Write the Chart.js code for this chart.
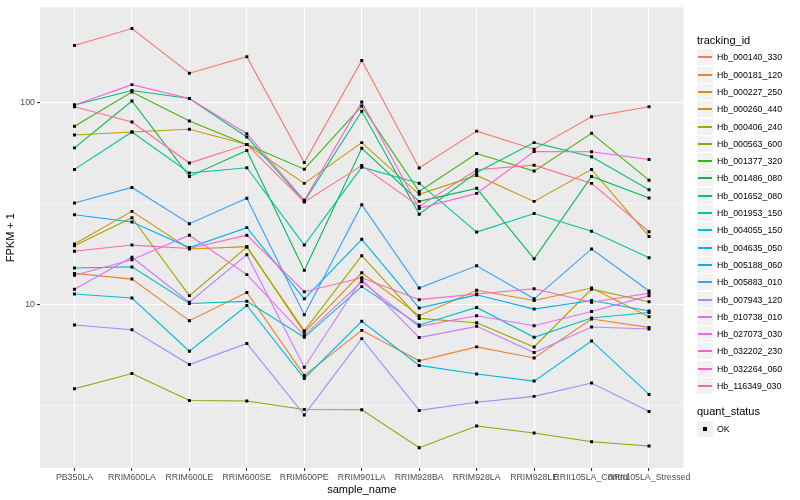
<!DOCTYPE html>
<html>
<head>
<meta charset="utf-8">
<script src="https://cdn.jsdelivr.net/npm/chart.js@4.4.0/dist/chart.umd.min.js"></script>
<style>
body { margin: 0; background: #fff; font-family: "Liberation Sans", Arial, sans-serif; }
#wrap { position: relative; width: 800px; height: 500px; }
#legend { position: absolute; left: 0; top: 0; width: 800px; height: 500px; pointer-events: none; }
.ltitle { position: absolute; left: 697px; font-size: 11px; line-height: 13px; color: #000; }
.lkey { position: absolute; left: 697px; width: 16px; height: 16px; background: #F2F2F2; }
.lline { position: absolute; left: 1px; right: 1px; top: 7px; height: 1.5px; }
.ldot { position: absolute; left: 6px; top: 6px; width: 4px; height: 4px; background: #000; }
.ltext { position: absolute; left: 717px; font-size: 8.8px; line-height: 16px; color: #000; white-space: nowrap; }
</style>
</head>
<body>
<div id="wrap">
  <canvas id="fpkmChart" width="800" height="500"></canvas>
  <div id="legend"></div>
</div>
<script>
const sampleNames = ['PB350LA', 'RRIM600LA', 'RRIM600LE', 'RRIM600SE', 'RRIM600PE', 'RRIM901LA',
  'RRIM928BA', 'RRIM928LA', 'RRIM928LE', 'RRII105LA_Control', 'RRII105LA_Stressed'];

const trackingIds = ['Hb_000140_330', 'Hb_000181_120', 'Hb_000227_250', 'Hb_000260_440', 'Hb_000406_240',
  'Hb_000563_600', 'Hb_001377_320', 'Hb_001486_080', 'Hb_001652_080', 'Hb_001953_150',
  'Hb_004055_150', 'Hb_004635_050', 'Hb_005188_060', 'Hb_005883_010', 'Hb_007943_120',
  'Hb_010738_010', 'Hb_027073_030', 'Hb_032202_230', 'Hb_032264_060', 'Hb_116349_030'];

const lineColors = ['#F8766D', '#EA8331', '#D89000', '#C09B00', '#A3A500', '#7CAE00', '#39B600', '#00BB4E',
  '#00BF7D', '#00C1A3', '#00BFC4', '#00BAE0', '#00B0F6', '#35A2FF', '#9590FF', '#C77CFF',
  '#E76BF3', '#FA62DB', '#FF62BC', '#FF6C91'];

// FPKM + 1, one value per sample
const hb_000140_330 = [192, 233, 140, 169, 50.6, 162, 47.6, 72.4, 58.9, 85.3, 95.6];
const hb_000181_120 = [14.3, 13.4, 8.34, 11.5, 4.47, 7.47, 5.28, 6.19, 5.45, 8.5, 7.73];
const hb_000227_250 = [20.0, 29.0, 18.9, 19.4, 7.31, 14.4, 8.83, 11.8, 10.5, 12.1, 8.73];
const hb_000260_440 = [69.3, 71.7, 73.9, 62.1, 39.9, 63.5, 35.2, 43.7, 32.5, 46.8, 21.8];
const hb_000406_240 = [19.6, 27.0, 11.1, 19.3, 7.44, 17.5, 8.56, 8.15, 6.18, 11.95, 10.35];
const hb_000563_600 = [3.84, 4.57, 3.36, 3.34, 3.03, 3.02, 1.96, 2.51, 2.32, 2.10, 2.0];
const hb_001377_320 = [76.5, 113, 81.2, 62.1, 46.9, 96.3, 36.4, 56.1, 45.9, 70.6, 41.4];
const hb_001486_080 = [59.8, 102, 43.2, 58.0, 14.8, 59.5, 32.5, 37.7, 16.9, 43.2, 33.8];
const hb_001652_080 = [97.4, 115, 105, 67.7, 32.5, 90.8, 28.1, 45.2, 63.5, 54.0, 37.1];
const hb_001953_150 = [46.8, 71.7, 44.9, 47.7, 19.75, 48.0, 40.0, 22.9, 28.3, 23.1, 17.1];
const hb_004055_150 = [15.2, 15.4, 10.15, 10.4, 6.9, 12.3, 7.94, 9.7, 6.9, 8.6, 9.16];
const hb_004635_050 = [11.3, 10.8, 5.89, 9.92, 4.32, 8.28, 5.01, 4.54, 4.19, 6.62, 3.6];
const hb_005188_060 = [27.9, 25.7, 19.2, 24.1, 10.7, 21.1, 9.63, 11.2, 9.52, 10.5, 9.31];
const hb_005883_010 = [31.9, 38.1, 25.2, 33.7, 8.93, 31.3, 12.1, 15.6, 10.7, 18.9, 11.7];
const hb_007943_120 = [7.94, 7.53, 5.06, 6.43, 2.85, 6.8, 3.0, 3.29, 3.52, 4.1, 2.96];
const hb_010738_010 = [11.95, 17.2, 10.3, 17.7, 4.91, 13.4, 6.88, 7.82, 5.8, 7.76, 7.59];
const hb_027073_030 = [14.0, 16.7, 22.1, 14.1, 7.04, 13.0, 7.82, 8.83, 7.88, 9.27, 11.07];
const hb_032202_230 = [97.4, 123, 105, 70.3, 32.9, 101, 30.0, 35.6, 57.4, 57.2, 52.4];
const hb_032264_060 = [18.4, 19.75, 19.0, 22.1, 11.6, 13.6, 10.6, 11.3, 12.0, 10.3, 11.4];
const hb_116349_030 = [95.6, 80.3, 50.3, 62.1, 32.3, 48.9, 30.7, 46.6, 49.1, 39.9, 23.0];

const seriesValues = [hb_000140_330, hb_000181_120, hb_000227_250, hb_000260_440, hb_000406_240,
  hb_000563_600, hb_001377_320, hb_001486_080, hb_001652_080, hb_001953_150,
  hb_004055_150, hb_004635_050, hb_005188_060, hb_005883_010, hb_007943_120,
  hb_010738_010, hb_027073_030, hb_032202_230, hb_032264_060, hb_116349_030];

const yGridValues = [3.1623, 10, 31.623, 100];
const yTickLabels = ['', '10', '', '100'];

// grey panel like ggplot
const panelBg = {
  id: 'panelBg',
  beforeDraw(chart) {
    const a = chart.chartArea;
    const c = chart.ctx;
    c.save();
    c.fillStyle = '#EBEBEB';
    c.fillRect(a.left, a.top, a.right - a.left, a.bottom - a.top);
    c.restore();
  }
};

const datasets = seriesValues.map((vals, i) => ({
  label: trackingIds[i],
  data: vals.map((v, j) => ({ x: j, y: v })),
  borderColor: lineColors[i],
  borderWidth: 1.1,
  pointRadius: 0,
  fill: false,
  tension: 0,
  order: -i
}));

datasets.push({
  label: 'OK',
  type: 'scatter',
  data: seriesValues.flatMap(vals => vals.map((v, j) => ({ x: j, y: v }))),
  pointStyle: 'rect',
  pointRadius: 2.1,
  backgroundColor: '#000',
  borderWidth: 0,
  showLine: false,
  order: -100
});

new Chart(document.getElementById('fpkmChart'), {
  type: 'line',
  data: { datasets: datasets },
  plugins: [panelBg],
  options: {
    responsive: false,
    animation: false,
    layout: { padding: { left: 0, top: 5, right: 116.5, bottom: 0 } },
    plugins: { legend: { display: false }, tooltip: { enabled: false } },
    scales: {
      x: {
        type: 'linear',
        min: -0.6,
        max: 10.6,
        afterBuildTicks: s => { s.ticks = sampleNames.map((_, i) => ({ value: i })); },
        afterFit: s => { s.height = 32; },
        ticks: {
          callback: v => sampleNames[v],
          autoSkip: false,
          maxRotation: 0,
          minRotation: 0,
          color: '#4D4D4D',
          font: { family: 'Liberation Sans', size: 8.8 },
          padding: 1
        },
        grid: { color: '#FFFFFF', lineWidth: 1.1, tickLength: 3, tickColor: '#333333' },
        border: { display: false },
        title: {
          display: true,
          text: 'sample_name',
          color: '#000',
          font: { family: 'Liberation Sans', size: 11 },
          padding: { top: 0, bottom: 3 }
        }
      },
      y: {
        type: 'logarithmic',
        min: 1.556,
        max: 297,
        afterBuildTicks: s => { s.ticks = yGridValues.map(v => ({ value: v })); },
        afterFit: s => { s.width = 40; },
        ticks: {
          callback: (v, i) => yTickLabels[i],
          color: '#4D4D4D',
          font: { family: 'Liberation Sans', size: 8.8 },
          padding: 2,
          autoSkip: false
        },
        grid: {
          color: '#FFFFFF',
          lineWidth: c => (yTickLabels[c.index] ? 1.1 : 0.55),
          tickLength: 3,
          tickColor: c => (yTickLabels[c.index] ? '#333333' : 'rgba(0,0,0,0)')
        },
        border: { display: false },
        title: {
          display: true,
          text: 'FPKM + 1',
          color: '#000',
          font: { family: 'Liberation Sans', size: 11 },
          padding: { top: 4, bottom: 0 }
        }
      }
    }
  }
});

// ggplot-style legend on the right
const legend = document.getElementById('legend');
let html = '<div class="ltitle" style="top:34px">tracking_id</div>';
trackingIds.forEach((id, i) => {
  const top = Math.round(57.3 + i * 17.3 - 8);
  html += '<div class="lkey" style="top:' + top + 'px"><div class="lline" style="background:' + lineColors[i] + '"></div></div>';
  html += '<div class="ltext" style="top:' + top + 'px">' + id + '</div>';
});
html += '<div class="ltitle" style="top:405px">quant_status</div>';
html += '<div class="lkey" style="top:421px"><div class="ldot"></div></div>';
html += '<div class="ltext" style="top:421px">OK</div>';
legend.innerHTML = html;
</script>
</body>
</html>
